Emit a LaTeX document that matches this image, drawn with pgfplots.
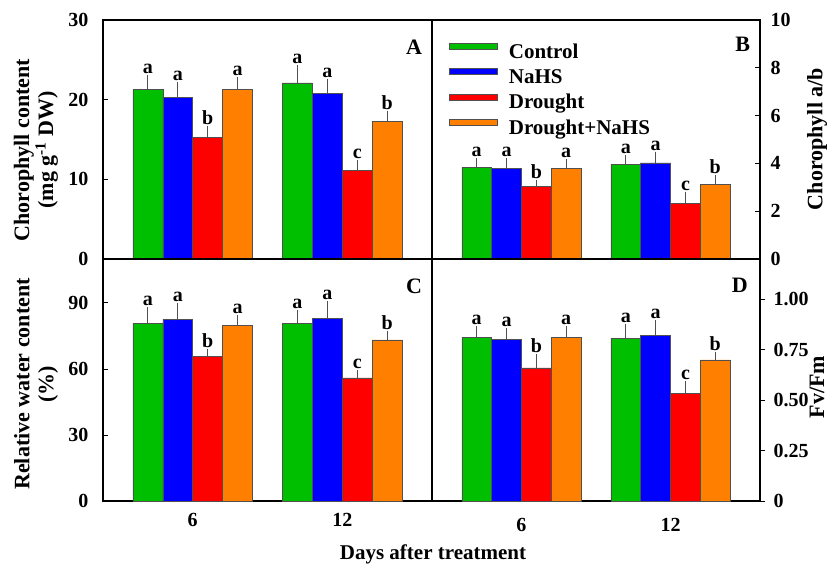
\documentclass[border=0pt]{standalone}
\usepackage{fontspec}
\setmainfont{Liberation Serif}
\usepackage{pgfplots}
\pgfplotsset{compat=1.18}

\definecolor{cgreen}{RGB}{0,190,0}
\definecolor{cblue}{RGB}{0,0,255}
\definecolor{cred}{RGB}{255,0,0}
\definecolor{corange}{RGB}{255,128,0}
\definecolor{edge}{RGB}{80,80,80}

\newcommand{\tkf}{\fontsize{20}{22}\selectfont\bfseries}
\newcommand{\lbf}{\fontsize{22}{24}\selectfont\bfseries}

\pgfplotsset{
  panel/.style={
    scale only axis, anchor=south west, clip=false,
    xmin=-0.6, xmax=1.6, ymin=0,
    axis line style={line width=1.6pt},
    tick style={line width=1pt, black},
    tick align=inside, major tick length=5pt,
    /pgf/number format/assume math mode=true,
    tick label style={font=\tkf},
    xtick style={draw=none},
  },
  leftax/.style={ytick pos=left, yticklabel pos=left, yticklabel style={xshift=-11pt}},
  rightax/.style={ytick pos=right, yticklabel pos=right, yticklabel style={xshift=7pt, anchor=west}},
  bars/.style={ybar, bar width=0.2, bar shift=0pt, fill=#1, draw=edge, line width=0.6pt,
    error bars/.cd, y dir=plus, y explicit,
    error bar style={line width=0.8pt, edge},
    error mark options={mark size=3.5pt, line width=0.8pt, edge}},
  lett/.style={draw=none, mark=none, forget plot, nodes near coords,
    point meta=explicit symbolic,
    nodes near coords style={anchor=base, yshift=5pt, inner sep=0pt,
      font=\fontsize{20}{22}\selectfont\bfseries, black}},
}

\begin{document}
\begin{tikzpicture}

% A: chlorophyll content
\begin{axis}[panel, leftax, at={(103pt,306pt)}, width=329pt, height=239pt,
  ymax=30, ytick={0,10,20,30}, xtick=\empty]
\addplot[bars=cgreen] coordinates {(-0.3,21.3) +- (0,1.3) (0.7,22.1) +- (0,1.8)};
\addplot[bars=cblue] coordinates {(-0.1,20.3) +- (0,1.5) (0.9,20.8) +- (0,1.4)};
\addplot[bars=cred] coordinates {(0.1,15.3) +- (0,0.9) (1.1,11.1) +- (0,0.9)};
\addplot[bars=corange] coordinates {(0.3,21.3) +- (0,1.1) (1.3,17.3) +- (0,0.9)};
\addplot[lett] coordinates {(-0.3,22.6)[a] (-0.1,21.8)[a] (0.1,16.2)[b] (0.3,22.4)[a]
  (0.7,23.9)[a] (0.9,22.2)[a] (1.1,12.0)[c] (1.3,18.2)[b]};
\node[anchor=north east, inner sep=0pt, font=\lbf] at (rel axis cs:0.97,0.916) {A};
\end{axis}

% B: chlorophyll a/b
\begin{axis}[panel, rightax, at={(432pt,306pt)}, width=328pt, height=239pt,
  ymax=10, ytick={0,2,4,6,8,10}, xtick=\empty,
  legend image code/.code={\draw[#1] (0pt,4pt) rectangle (48pt,10pt);},
  legend style={draw=none, fill=none, at={(0.052,0.905)}, anchor=north west,
    inner sep=0pt, row sep=5pt, column sep=10pt,
    font=\fontsize{21}{24}\selectfont\bfseries,
    nodes={inner sep=1pt, text height=14pt, text depth=4pt}},
  legend cell align=left]
\addplot[bars=cgreen] coordinates {(-0.3,3.84) +- (0,0.23) (0.7,3.97) +- (0,0.23)};
\addplot[bars=cblue] coordinates {(-0.1,3.78) +- (0,0.32) (0.9,4.02) +- (0,0.33)};
\addplot[bars=cred] coordinates {(0.1,3.03) +- (0,0.11) (1.1,2.33) +- (0,0.34)};
\addplot[bars=corange] coordinates {(0.3,3.78) +- (0,0.25) (1.3,3.13) +- (0,0.23)};
\addplot[lett] coordinates {(-0.3,4.07)[a] (-0.1,4.10)[a] (0.1,3.14)[b] (0.3,4.03)[a]
  (0.7,4.20)[a] (0.9,4.35)[a] (1.1,2.67)[c] (1.3,3.36)[b]};
\legend{Control, NaHS, Drought, Drought+NaHS}
\node[anchor=north east, inner sep=0pt, font=\lbf] at (rel axis cs:0.97,0.93) {B};
\end{axis}

% C: relative water content
\begin{axis}[panel, leftax, at={(103pt,64pt)}, width=329pt, height=242pt,
  ymax=110, ytick={0,30,60,90}, xtick={0,1}, xticklabels={6,12},
  xticklabel style={yshift=-9pt}]
\addplot[bars=cgreen] coordinates {(-0.3,80.8) +- (0,5.6) (0.7,80.7) +- (0,4.4)};
\addplot[bars=cblue] coordinates {(-0.1,82.6) +- (0,5.8) (0.9,83.0) +- (0,6.4)};
\addplot[bars=cred] coordinates {(0.1,65.6) +- (0,1.7) (1.1,56.0) +- (0,2.1)};
\addplot[bars=corange] coordinates {(0.3,79.9) +- (0,3.2) (1.3,73.2) +- (0,2.3)};
\addplot[lett] coordinates {(-0.3,86.4)[a] (-0.1,88.4)[a] (0.1,67.3)[b] (0.3,83.1)[a]
  (0.7,85.1)[a] (0.9,89.4)[a] (1.1,58.1)[c] (1.3,75.5)[b]};
\node[anchor=north east, inner sep=0pt, font=\lbf] at (rel axis cs:0.97,0.92) {C};
\end{axis}

% D: Fv/Fm
\begin{axis}[panel, rightax, at={(432pt,64pt)}, width=328pt, height=242pt,
  tick align=outside, yticklabel style={xshift=-2pt},
  ymax=1.2, ytick={0,0.25,0.5,0.75,1}, yticklabels={0,0.25,0.50,0.75,1.00},
  xtick={0,1}, xticklabels={6,12}, xticklabel style={yshift=-9pt}]
\addplot[bars=cgreen] coordinates {(-0.3,0.813) +- (0,0.037) (0.7,0.808) +- (0,0.053)};
\addplot[bars=cblue] coordinates {(-0.1,0.800) +- (0,0.040) (0.9,0.820) +- (0,0.060)};
\addplot[bars=cred] coordinates {(0.1,0.660) +- (0,0.050) (1.1,0.535) +- (0,0.045)};
\addplot[bars=corange] coordinates {(0.3,0.813) +- (0,0.037) (1.3,0.700) +- (0,0.021)};
\addplot[lett] coordinates {(-0.3,0.850)[a] (-0.1,0.840)[a] (0.1,0.710)[b] (0.3,0.850)[a]
  (0.7,0.861)[a] (0.9,0.880)[a] (1.1,0.580)[c] (1.3,0.721)[b]};
\node[anchor=north east, inner sep=0pt, font=\lbf] at (rel axis cs:0.963,0.92) {D};
\end{axis}

\node[rotate=90, align=center, font=\lbf] at (36pt,415pt) {Chorophyll content\\(mg g\textsuperscript{-1} DW)};
\node[rotate=90, align=center, font=\lbf] at (36pt,181pt) {Relative water content\\(\%)};
\node[rotate=90, font=\lbf] at (817pt,426pt) {Chorophyll a/b};
\node[rotate=90, font=\lbf] at (817pt,178pt) {Fv/Fm};
\node[anchor=base, font=\fontsize{21}{24}\selectfont\bfseries] at (433pt,6pt) {Days after treatment};

\pgfresetboundingbox
\path[use as bounding box] (0pt,0pt) rectangle (829pt,565pt);
\end{tikzpicture}
\end{document}
